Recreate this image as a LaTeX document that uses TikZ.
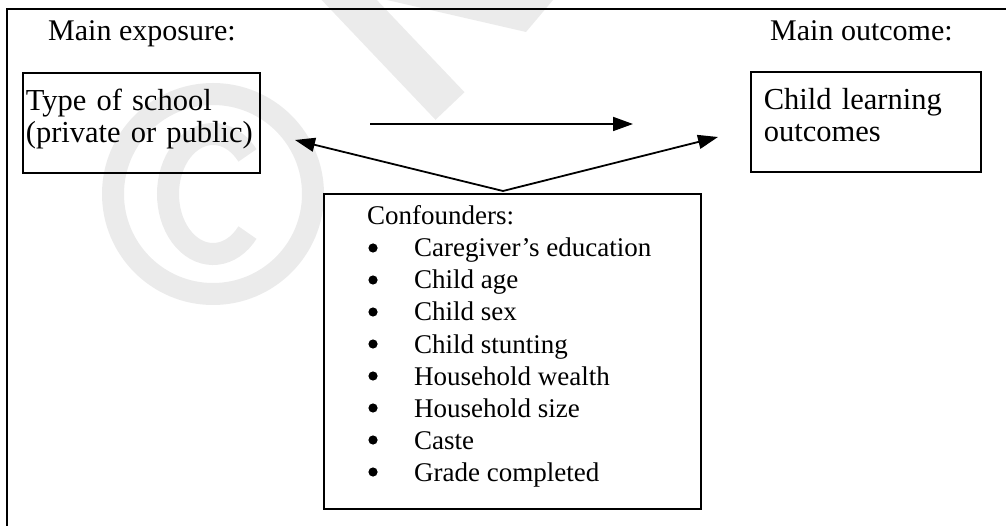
\documentclass[tikz,border=0pt]{standalone}
\usepackage{fontspec}
\setmainfont{Liberation Serif}
\usetikzlibrary{arrows.meta}
\newcommand{\lastline}{\rule[-16pt]{0pt}{16pt}}
\begin{document}
\begin{tikzpicture}[x=1pt,y=-1pt,
  wm/.style={black!8},
  frame/.style={line width=2.2pt},
  boxnode/.style={draw, line width=1.7pt, anchor=north west, inner xsep=3pt, inner ysep=0pt, align=left, font=\fontsize{30.5}{32}\selectfont},
  lbl/.style={anchor=base west, inner sep=0pt, font=\fontsize{30}{32}\selectfont},
  listitem/.style={anchor=base west, inner sep=0pt, font=\fontsize{27}{32}\selectfont},
  bulletdot/.style={fill=black},
  arr/.style={line width=1.8pt, -{Triangle[length=20pt,width=14pt]}}
]
\useasboundingbox (0,0) rectangle (1006,526);
% faint watermark
\begin{scope}
  \clip (0,0) rectangle (1006,526);
  \draw[wm, line width=22pt] (213,194) circle (100);
  \draw[wm, line width=22pt] ([shift={(40:45 and 60)}]213,194) arc[start angle=40, end angle=320, x radius=45, y radius=60];
  \draw[wm, line width=40pt] (335,-15) -- (450,106);
  \fill[wm] (387,0) -- (553,0) -- (526,32) -- cycle;
\end{scope}
% outer frame
\draw[frame] (7,530) -- (7,9) -- (1010,9);
% labels
\node[lbl] (mexp) at (48,41) {Main exposure:};
\node[lbl] (mout) at (770,41) {Main outcome:};
% boxes
\node[boxnode, minimum width=237pt, minimum height=100pt, text width=231pt] (expo) at (22,72) {\strut Type of school\\\strut (private or public)\lastline};
\node[boxnode, inner xsep=13pt, minimum width=230pt, minimum height=100pt, text width=204pt] (outc) at (750,71) {\strut Child learning\\\strut outcomes\lastline};
\node[draw, line width=1.7pt, anchor=north west, minimum width=377pt, minimum height=315pt, inner sep=0pt] (conf) at (323,193) {};
% confounder list
\node[listitem] (ctitle) at (367,225) {Confounders:};
\foreach \t [count=\i] in {Caregiver’s education, Child age, Child sex, Child stunting, Household wealth, Household size, Caste, Grade completed}{
  \node[listitem] (c\i) at (414,{225+32*\i}) {\t};
  \fill[bulletdot] (373,{225+32*\i-9}) circle (4.6);
}
% arrows
\coordinate (apex) at (503,191);
\coordinate (tipL) at (295,140);
\coordinate (tipR) at (718,137);
\coordinate (hs) at (370,124);
\coordinate (he) at (633,124);
\draw[arr] (apex) -- (tipL);
\draw[arr] (apex) -- (tipR);
\draw[arr] (hs) -- (he);
\end{tikzpicture}
\end{document}
